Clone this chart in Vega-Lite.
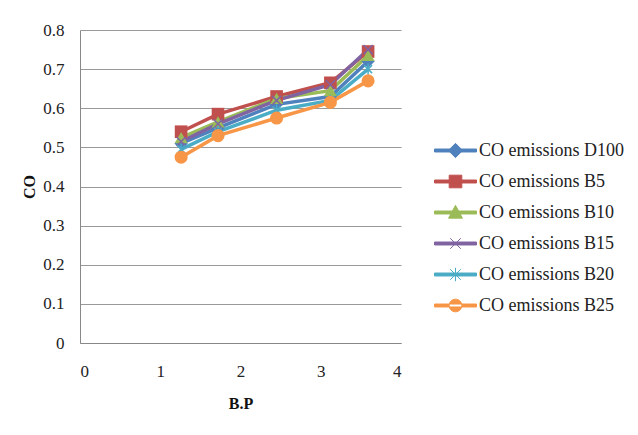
{
  "$schema": "https://vega.github.io/schema/vega-lite/v6.json",
  "autosize": "none",
  "width": 321,
  "height": 313,
  "padding": {"left": 80, "top": 30, "right": 237, "bottom": 92},
  "background": "white",
  "config": {
    "view": {"stroke": null},
    "font": "Liberation Serif",
    "axis": {"labelFont": "Liberation Serif", "titleFont": "Liberation Serif", "labelFontSize": 17, "titleFontSize": 16, "labelColor": "#222", "titleColor": "#111", "domainColor": "#888", "gridColor": "#999", "ticks": false}
  },
  "data": {"values": [
    {"series": "CO emissions D100", "bp": 1.26, "co": 0.51},
    {"series": "CO emissions D100", "bp": 1.72, "co": 0.55},
    {"series": "CO emissions D100", "bp": 2.45, "co": 0.61},
    {"series": "CO emissions D100", "bp": 3.12, "co": 0.63},
    {"series": "CO emissions D100", "bp": 3.59, "co": 0.72},
    {"series": "CO emissions B5", "bp": 1.26, "co": 0.54},
    {"series": "CO emissions B5", "bp": 1.72, "co": 0.585},
    {"series": "CO emissions B5", "bp": 2.45, "co": 0.63},
    {"series": "CO emissions B5", "bp": 3.12, "co": 0.665},
    {"series": "CO emissions B5", "bp": 3.59, "co": 0.745},
    {"series": "CO emissions B10", "bp": 1.26, "co": 0.525},
    {"series": "CO emissions B10", "bp": 1.72, "co": 0.565},
    {"series": "CO emissions B10", "bp": 2.45, "co": 0.625},
    {"series": "CO emissions B10", "bp": 3.12, "co": 0.645},
    {"series": "CO emissions B10", "bp": 3.59, "co": 0.735},
    {"series": "CO emissions B15", "bp": 1.26, "co": 0.515},
    {"series": "CO emissions B15", "bp": 1.72, "co": 0.56},
    {"series": "CO emissions B15", "bp": 2.45, "co": 0.62},
    {"series": "CO emissions B15", "bp": 3.12, "co": 0.66},
    {"series": "CO emissions B15", "bp": 3.59, "co": 0.75},
    {"series": "CO emissions B20", "bp": 1.26, "co": 0.495},
    {"series": "CO emissions B20", "bp": 1.72, "co": 0.54},
    {"series": "CO emissions B20", "bp": 2.45, "co": 0.595},
    {"series": "CO emissions B20", "bp": 3.12, "co": 0.62},
    {"series": "CO emissions B20", "bp": 3.59, "co": 0.70},
    {"series": "CO emissions B25", "bp": 1.26, "co": 0.475},
    {"series": "CO emissions B25", "bp": 1.72, "co": 0.53},
    {"series": "CO emissions B25", "bp": 2.45, "co": 0.575},
    {"series": "CO emissions B25", "bp": 3.12, "co": 0.615},
    {"series": "CO emissions B25", "bp": 3.59, "co": 0.67}
  ]},
  "encoding": {
    "x": {"field": "bp", "type": "quantitative", "scale": {"domain": [0, 4], "nice": false}, "axis": {"title": "B.P", "values": [0, 1, 2, 3, 4], "grid": false, "labelPadding": 20, "titleFontWeight": "bold", "titlePadding": 16}},
    "y": {"field": "co", "type": "quantitative", "scale": {"domain": [0, 0.8], "nice": false}, "axis": {"title": "CO", "values": [0, 0.1, 0.2, 0.3, 0.4, 0.5, 0.6, 0.7, 0.8], "format": "~g", "grid": true, "labelPadding": 16, "titleFontWeight": "bold", "titlePadding": 5}},
    "color": {
      "field": "series", "type": "nominal",
      "scale": {"domain": ["CO emissions D100", "CO emissions B5", "CO emissions B10", "CO emissions B15", "CO emissions B20", "CO emissions B25"], "range": ["#4F81BD", "#C0504D", "#9BBB59", "#8064A2", "#4BACC6", "#F79646"]},
      "legend": {
        "title": null, "orient": "none", "legendX": 354, "legendY": 99,
        "labelFont": "Liberation Serif", "labelFontSize": 18, "labelColor": "#222",
        "symbolSize": 1764, "rowPadding": 0, "labelOffset": 2,
        "encode": {"symbols": {"update": {
          "shape": {"signal": "datum.value === 'CO emissions D100' ? 'M-1,-0.07H1V0.07H-1Z M0,-0.34L0.34,0L0,0.34L-0.34,0Z' : datum.value === 'CO emissions B5' ? 'M-1,-0.07H1V0.07H-1Z M-0.3,-0.3H0.3V0.3H-0.3Z' : datum.value === 'CO emissions B10' ? 'M-1,-0.07H1V0.07H-1Z M0,-0.34L0.33,0.27H-0.33Z' : datum.value === 'CO emissions B15' ? 'M-1,-0.07H1V0.07H-1Z M-0.25,-0.25L0.25,0.25M0.25,-0.25L-0.25,0.25' : datum.value === 'CO emissions B20' ? 'M-1,-0.07H1V0.07H-1Z M-0.25,-0.25L0.25,0.25M0.25,-0.25L-0.25,0.25M0,-0.32L0,0.32' : 'M-1,-0.07H1V0.07H-1Z M-0.3,0A0.3,0.3 0 1,0 0.3,0A0.3,0.3 0 1,0 -0.3,0Z'"},
          "fill": {"signal": "scale('color', datum.value)"},
          "stroke": {"signal": "scale('color', datum.value)"},
          "strokeWidth": {"value": 1},
          "opacity": {"value": 1},
          "fillOpacity": {"value": 1}
        }}}
      }
    }
  },
  "layer": [
    {"mark": {"type": "line", "strokeWidth": 3.5}},
    {"transform": [{"filter": "datum.series === 'CO emissions D100'"}], "mark": {"type": "point", "filled": true, "size": 180, "opacity": 1, "shape": "diamond"}},
    {"transform": [{"filter": "datum.series === 'CO emissions B5'"}], "mark": {"type": "point", "filled": true, "size": 160, "opacity": 1, "shape": "square"}},
    {"transform": [{"filter": "datum.series === 'CO emissions B10'"}], "mark": {"type": "point", "filled": true, "size": 170, "opacity": 1, "shape": "triangle-up"}},
    {"transform": [{"filter": "datum.series === 'CO emissions B15'"}], "mark": {"type": "point", "filled": false, "size": 130, "opacity": 1, "strokeWidth": 1.5, "shape": "M-0.8,-0.8L0.8,0.8M0.8,-0.8L-0.8,0.8"}},
    {"transform": [{"filter": "datum.series === 'CO emissions B20'"}], "mark": {"type": "point", "filled": false, "size": 130, "opacity": 1, "strokeWidth": 1.5, "shape": "M-0.7,-0.7L0.7,0.7M0.7,-0.7L-0.7,0.7M0,-1L0,1"}},
    {"transform": [{"filter": "datum.series === 'CO emissions B25'"}], "mark": {"type": "point", "filled": true, "size": 170, "opacity": 1, "shape": "circle"}}
  ]
}
